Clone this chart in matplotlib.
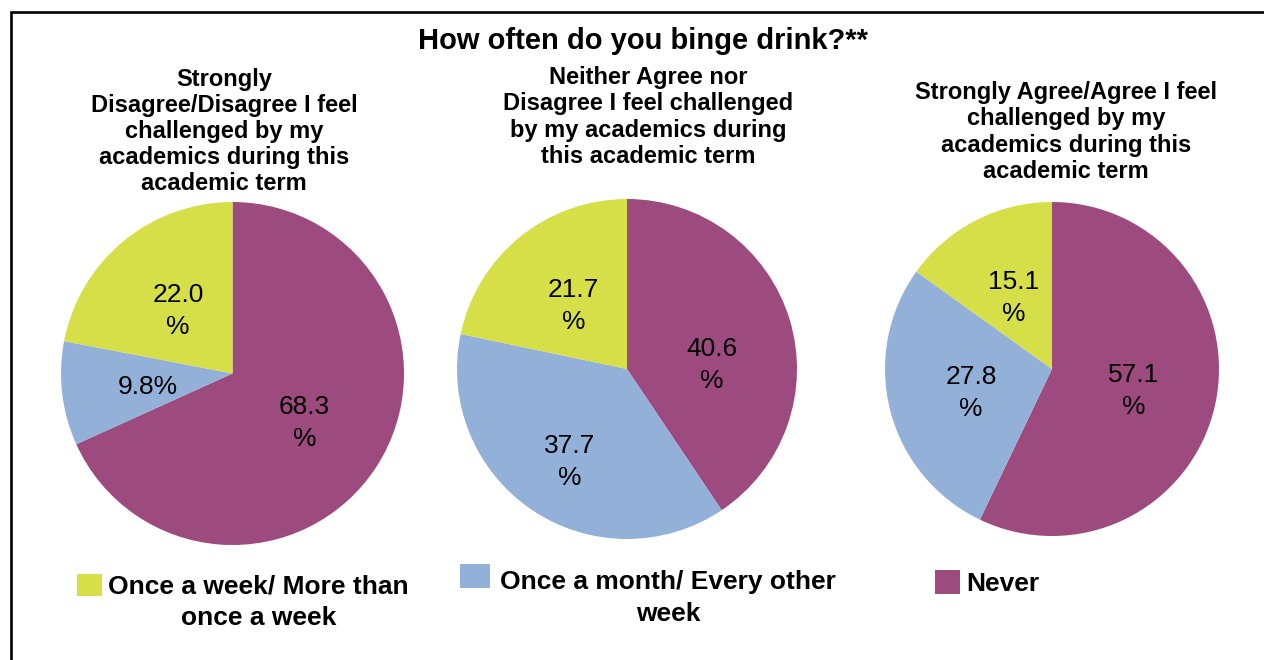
import matplotlib
matplotlib.use("Agg")
import matplotlib.pyplot as plt
from matplotlib.lines import Line2D
import numpy as np

# ---------------- data ----------------
title = "How often do you binge drink?**"
categories = ["Never", "Once a month/ Every other\nweek", "Once a week/ More than\nonce a week"]
subtitles = [
    "Strongly\nDisagree/Disagree I feel\nchallenged by my\nacademics during this\nacademic term",
    "Neither Agree nor\nDisagree I feel challenged\nby my academics during\nthis academic term",
    "Strongly Agree/Agree I feel\nchallenged by my\nacademics during this\nacademic term",
]
never_vals = [68.3, 40.6, 57.1]
month_vals = [9.8, 37.7, 27.8]
week_vals = [22.0, 21.7, 15.1]

colors = ["#9D4A7E", "#93B1D8", "#D6DF47"]

# ---------------- layout ----------------
W, H = 1264, 660
fig = plt.figure(figsize=(W / 100, H / 100), dpi=100)
fig.patch.set_facecolor("white")
plt.rcParams["font.family"] = ["Liberation Sans", "DejaVu Sans"]

# pie centres / radii in pixels (style only)
pie_geom = [(232.5, 373.5, 171.5), (627, 369, 170), (1052, 369, 167)]
sub_centers = [(224, 131.5), (648, 117), (1066, 132)]
label_nudge = {(1, 0): (0.02, -0.10), (1, 1): (-0.055, -0.11)}

fig.text(643 / W, 1 - 41 / H, title, ha="center", va="center",
         fontsize=21, fontweight="bold")

wedges_first = None
for i in range(3):
    cx, cy, r = pie_geom[i]
    ax = fig.add_axes([(cx - r) / W, (H - cy - r) / H, 2 * r / W, 2 * r / H])
    vals = [never_vals[i], month_vals[i], week_vals[i]]
    wedges, _ = ax.pie(vals, colors=colors, startangle=90, counterclock=False,
                       radius=1.0, wedgeprops=dict(linewidth=0))
    if wedges_first is None:
        wedges_first = wedges
    ax.set_xlim(-1, 1)
    ax.set_ylim(-1, 1)
    ax.set_aspect("equal")
    ax.axis("off")
    for j, (w, v) in enumerate(zip(wedges, vals)):
        ang = np.deg2rad((w.theta1 + w.theta2) / 2)
        x, y = 0.5 * np.cos(ang), 0.5 * np.sin(ang)
        dx, dy = label_nudge.get((i, j), (0, 0))
        s = f"{v:.1f}"
        txt = s + "%" if len(s) < 4 else s + "\n%"
        ax.text(x + dx, y + dy - 0.02, txt, ha="center", va="center", fontsize=19,
                linespacing=1.42, color="black")
    sx, sy = sub_centers[i]
    fig.text(sx / W, 1 - sy / H, subtitles[i], ha="center", va="center",
             fontsize=17, fontweight="bold", linespacing=1.18,
             multialignment="center")

# ---------------- legend ----------------
# (category idx, left px, top px, handle w, handle h, text pad, handle lift pt)
leg_pos = [(2, 77, 574, 0.93, 0.88, 0.25, 12.7),
           (1, 460, 570, 1.15, 1.0, 0.38, 16.2),
           (0, 935, 570, 0.95, 1.0, 0.25, 0.0)]
for idx, lx, ly, hl, hh, tp, lift in leg_pos:
    leg = fig.legend([wedges_first[idx]], [categories[idx]], loc="upper left",
                     bbox_to_anchor=(lx / W, 1 - ly / H), frameon=False,
                     borderpad=0, borderaxespad=0, handlelength=hl,
                     handleheight=hh, handletextpad=tp,
                     prop=dict(size=19, weight="bold"))
    for t in leg.get_texts():
        t.set_multialignment("center")
        t.set_linespacing(1.43)
    for h in leg.legend_handles:
        h.set_y(h.get_y() + lift)

# ---------------- border (top and left lines) ----------------
fig.add_artist(Line2D([11 / W, 11 / W, 1.01], [-0.01, 1 - 11.5 / H, 1 - 11.5 / H],
                      transform=fig.transFigure, color="black", linewidth=1.9,
                      solid_joinstyle="miter"))

fig.savefig("out.png", dpi=100, facecolor="white")
